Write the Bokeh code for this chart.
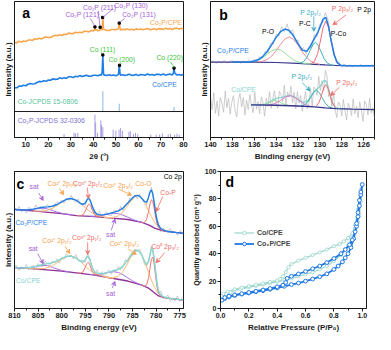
from bokeh.plotting import figure
from bokeh.models import Range1d, FixedTicker, Label, Arrow, VeeHead, Span, Legend, LegendItem, PrintfTickFormatter
from bokeh.layouts import column, row
from bokeh.embed import file_html
from bokeh.resources import INLINE

FONT = "Liberation Sans"
AX = "#1a1a1a"

# ---------------- Panel a : XRD ----------------
orange_x = [5, 6, 7, 8, 9, 10, 11, 12, 13, 14, 15, 16, 17, 18, 19, 20, 21, 22, 23, 24, 25, 26, 27, 28, 29, 30,
            31, 32, 33, 34, 35, 36, 37, 38, 39, 40, 40.5, 40.7, 40.9, 41.5, 42, 42.9, 43.3, 43.6, 43.9, 44.1, 44.2,
            44.3, 44.5, 45, 46, 47, 48, 49, 50, 51, 51.3, 51.5, 51.7, 52, 53, 54, 55, 56, 57, 58, 59, 60, 61, 62,
            63, 64, 65, 66, 67, 68, 69, 70, 71, 72, 73, 74, 75, 76, 77, 78, 79, 80]
orange_y = [101.6, 100.9, 102.6, 101.9, 102.8, 102.3, 103.9, 103.9, 103.6, 105.3, 104.8, 105.8, 105.0, 106.5, 107.2,
            106.6, 106.7, 108.0, 109.0, 108.5, 109.5, 108.8, 110.1, 109.8, 111.3, 110.8, 110.8, 112.2, 111.6, 112.3,
            111.8, 113.3, 113.3, 112.6, 114.1, 113.7, 114.5, 117.7, 114.6, 114.8, 113.7, 114.4, 117.0, 114.8, 115.0,
            124.0, 127.7, 123.5, 115.2, 115.1, 114.2, 114.1, 115.2, 115.2, 114.8, 115.8, 118.3, 121.7, 117.8, 114.6,
            115.3, 115.0, 115.75, 114.8, 115.5, 114.5, 115.8, 115.1, 115.7, 114.8, 115.5, 116.2, 115.0, 115.2, 116.1,
            114.8, 116.1, 115.8, 115.3, 116.6, 115.6, 116.1, 115.25, 116.3, 116.4, 115.6, 116.6, 115.5]
blue_x = [5, 6, 7, 8, 9, 10, 11, 12, 13, 14, 15, 16, 17, 18, 19, 20, 21, 22, 23, 24, 25, 26, 27, 28, 29, 30, 31, 32,
          33, 34, 35, 36, 37, 38, 39, 40, 41, 42, 43, 43.6, 43.9, 44.1, 44.2, 44.3, 44.5, 44.8, 45, 46, 47, 48, 49,
          50, 51, 51.2, 51.5, 51.8, 52, 53, 54, 55, 56, 57, 58, 59, 60, 61, 62, 63, 64, 65, 66, 67, 68, 69, 70, 71,
          72, 73, 74, 75, 75.5, 75.8, 76.1, 76.5, 77, 78, 79, 80]
blue_y = [53.1, 53.0, 54.9, 54.6, 55.8, 55.2, 56.8, 57.6, 57.1, 57.3, 58.7, 59.8, 59.4, 60.5, 59.9, 61.3, 61.0, 62.5,
          62.0, 62.1, 63.6, 63.0, 63.7, 63.2, 64.7, 64.7, 63.9, 65.3, 64.8, 66.0, 65.0, 65.7, 66.3, 65.4, 65.3, 66.4,
          66.35, 65.9, 66.95, 66.4, 70.0, 82.0, 87.7, 80.0, 68.5, 66.2, 66.45, 66.2, 66.95, 66.0, 66.75, 65.8, 67.0,
          68.5, 76.7, 69.0, 66.36, 67.0, 66.0, 66.75, 67.4, 66.2, 66.45, 67.3, 66.0, 67.2, 66.95, 66.45, 67.7, 66.7,
          67.2, 66.35, 67.35, 67.5, 66.7, 67.6, 66.5, 67.2, 67.6, 66.5, 68.5, 73.7, 68.8, 67.8, 66.7, 67.2, 66.3, 67.5]
orange_peak_x = [40.7, 43.0, 44.1, 51.5]
orange_peak_y = [117.9, 117.6, 128.0, 122.0]
blue_peak_x = [44.2, 51.6, 75.8]
blue_peak_y = [88.0, 77.0, 74.0]
co_ref_x = [44.2, 51.5, 75.8]
co_ref_top = [49.3, 36.0, 32.7]
co_ref_base = 27.7
co2p_ref_x = [27.0, 31.4, 32.1, 33.1, 40.7, 41.0, 41.8, 43.3, 43.6, 44.2, 48.8, 50.0, 51.4, 52.1, 52.9, 55.8, 56.4,
              57.8, 58.7, 59.7, 65.5, 67.9, 69.4, 70.6, 73.2, 74.2, 76.0, 77.1, 78.1]
co2p_ref_top = [3.7, 5.0, 4.3, 5.0, 24.3, 16.0, 5.0, 18.3, 13.5, 11.0, 8.3, 7.5, 8.3, 10.0, 7.0, 6.0, 7.0, 4.0, 5.0,
                3.5, 3.0, 3.0, 3.0, 4.5, 3.5, 4.0, 3.0, 4.0, 3.0]
a_ticks = [10, 20, 30, 40, 50, 60, 70, 80]

# ---------------- Panel b : P 2p ----------------
b_top_raw = [80.0, 82.5, 79.5, 81.8, 80.2, 82.9, 79.8, 81.5, 83.0, 80.1, 82.2, 79.6, 82.0, 80.5, 83.1, 80.2, 84.0,
             81.5, 86.9, 85.0, 92.5, 91.0, 101.5, 100.2, 110.8, 108.5, 119.0, 113.5, 122.0, 111.8, 116.0, 103.2,
             104.5, 93.0, 96.5, 89.8, 98.0, 97.5, 110.5, 108.2, 121.5, 123.0, 134.0, 126.5, 103.0, 95.5, 80.0, 80.8,
             76.0, 78.6, 76.2, 78.0, 75.8, 77.9, 76.5, 78.4, 76.0, 77.8, 76.3, 78.1, 76.9]
b_top_raw_x = [140 - 0.25 * i for i in range(len(b_top_raw))]
b_top_env_x = [138, 137, 136.4, 136.0, 135.6, 135.2, 134.8, 134.4, 134.0, 133.6, 133.2, 132.8, 132.4, 132.0, 131.6,
               131.2, 130.9, 130.6, 130.4, 130.2, 129.95, 129.7, 129.45, 129.2, 128.95, 128.7, 128.4, 128.1, 127.5,
               126, 125]
b_top_env_y = [81.0, 81.0, 81.3, 82.1, 83.7, 87.1, 92.6, 99.8, 107.5, 113.6, 116.4, 114.8, 108.9, 100.8, 93.8, 92.5,
               97.2, 104.0, 108.3, 112.5, 119.6, 127.1, 128.8, 119.3, 103.3, 89.0, 80.3, 77.5, 77.0, 77.0, 77.0]
b_top_bg_x = [140, 136, 134, 132, 130.5, 129.5, 128.5, 128, 125]
b_top_bg_y = [81.0, 81.0, 80.5, 79.5, 78.6, 77.9, 77.3, 77.0, 77.0]
b_top_green_x = [136.4, 136.0, 135.6, 135.2, 134.8, 134.4, 134.0, 133.6, 133.2, 132.8, 132.4, 132.0, 131.6, 131.2, 130.8]
b_top_green_y = [81.3, 82.0, 83.3, 85.9, 89.5, 93.0, 94.9, 94.0, 90.8, 86.8, 83.3, 81.1, 79.9, 79.2, 78.8]
b_top_pink_x = [135.6, 135.2, 134.8, 134.4, 134.0, 133.6, 133.2, 132.8, 132.4, 132.0, 131.6, 131.2, 130.8, 130.4, 130.0]
b_top_pink_y = [81.3, 82.0, 83.8, 87.4, 93.1, 99.9, 105.7, 107.9, 105.3, 99.1, 91.9, 85.8, 81.8, 79.7, 78.6]
b_top_teal_x = [131.8, 131.5, 131.2, 130.9, 130.6, 130.4, 130.2, 129.9, 129.6, 129.3, 129.0, 128.7]
b_top_teal_y = [79.9, 81.3, 85.5, 93.1, 100.3, 102.0, 100.1, 92.5, 84.5, 79.8, 78.0, 77.4]
b_top_red_x = [130.8, 130.5, 130.2, 129.95, 129.7, 129.45, 129.2, 128.95, 128.7, 128.4, 128.1]
b_top_red_y = [79.3, 81.7, 90.1, 103.6, 118.3, 124.9, 118.0, 102.9, 89.0, 80.3, 77.5]

b_bot_raw = [44, 30, 48, 26, 39, 23, 43, 37, 27, 50, 32, 42, 25, 38, 45, 29, 22, 41, 47, 33, 43, 24, 40, 30, 46,
             34.5, 26.5, 48.5, 30.5, 38.5, 25.5, 43.5, 37.7, 22.9, 42.4, 33.2, 49.2, 31.4, 41.3, 50.3, 35.8, 31.3,
             49.6, 45.9, 38.3, 55.9, 35.4, 48.8, 43.0, 55.0, 37.4, 48.6, 30.6, 49.3, 37.0, 45.1, 28.2, 39.8, 49.3,
             31.0, 36.5, 52.5, 33.3, 54.2, 51.8, 45.3, 65.6, 50.6, 61.0, 49.9, 72.0, 66.5, 44.0, 47.3, 33.0, 48.0,
             29.5, 21.5, 38.1, 35.0, 23.0, 40.9, 28.9, 18.8, 36.7, 31.7, 23.6, 41.6, 25.5, 33.5, 21.4, 38.4, 29.3,
             17.3, 39.3, 35.2, 24.2, 42.1, 26.1, 32.0, 20.0]
b_bot_raw_x = [140 - 0.15 * i for i in range(len(b_bot_raw))]
b_bot_env_x = [136.3, 135.6, 135.0, 134.7, 134.4, 134.1, 133.8, 133.5, 133.1, 132.7, 132.3, 131.9, 131.5, 131.1,
               130.8, 130.55, 130.3, 130.05, 129.85, 129.65, 129.45, 129.25, 129.05, 128.85, 128.6, 128.3, 127.5]
b_bot_env_y = [35.0, 35.0, 35.9, 37.4, 39.7, 41.5, 42.45, 43.0, 44.4, 45.1, 43.4, 40.0, 37.6, 39.3, 44.35, 49.15,
               51.9, 54.0, 57.15, 60.85, 61.0, 54.8, 45.25, 37.35, 32.5, 31.1, 30.75]
b_bot_bg_x = [136.3, 134, 132, 130.5, 129.5, 128.5, 127, 125]
b_bot_bg_y = [35.0, 34.6, 33.8, 32.8, 31.8, 31.0, 30.5, 30.0]
b_bot_green_x = [135.3, 135.0, 134.7, 134.4, 134.1, 133.8, 133.5, 133.2, 132.9]
b_bot_green_y = [35.0, 35.7, 37.1, 38.9, 39.6, 38.8, 37.0, 35.6, 34.6]
b_bot_pink_x = [134.7, 134.3, 133.9, 133.5, 133.1, 132.7, 132.3, 131.9, 131.5, 131.1, 130.7]
b_bot_pink_y = [35.0, 35.75, 37.65, 40.6, 43.7, 45.0, 43.3, 39.8, 36.4, 34.2, 33.2]
b_bot_teal_x = [131.7, 131.4, 131.1, 130.8, 130.55, 130.3, 130.05, 129.8, 129.5, 129.2, 128.9]
b_bot_teal_y = [33.96, 35.0, 38.2, 43.9, 48.75, 50.6, 48.25, 43.0, 36.8, 33.15, 31.66]
b_bot_red_x = [130.3, 130.05, 129.85, 129.65, 129.45, 129.25, 129.05, 128.85, 128.6]
b_bot_red_y = [33.9, 38.1, 45.15, 53.15, 56.75, 52.8, 44.45, 37.05, 32.4]
b_ticks = [140, 138, 136, 134, 132, 130, 128, 126]

# ---------------- Panel c : Co 2p ----------------
c_x = [810, 809, 808, 807, 806, 805, 804, 803, 802, 801, 800, 799, 798, 797, 796.5, 796, 795.5, 795, 794.7, 794.4,
       794.1, 793.8, 793.5, 793, 792.5, 792, 791, 790, 789, 788, 787, 786, 785, 784.5, 784, 783.5, 783, 782.5, 782,
       781.6, 781.3, 781.0, 780.7, 780.4, 780.1, 779.8, 779.5, 779, 778.5, 778, 777, 776, 775, 774.2]
c_top_env = [106.3, 105.9, 105.7, 105.9, 106.6, 107.7, 108.6, 109.0, 109.7, 111.6, 114.5, 117.2, 118.0, 116.2, 114.6,
             112.7, 111.6, 113.4, 116.0, 117.9, 117.3, 113.9, 109.3, 103.4, 101.1, 100.5, 100.7, 101.8, 103.2, 104.7,
             107.8, 113.1, 118.7, 120.7, 121.4, 120.5, 118.1, 114.7, 114.3, 119.5, 124.9, 127.2, 123.1, 113.5, 102.7,
             94.5, 89.5, 85.8, 84.2, 83.3, 82.4, 81.7, 81.2, 80.7]
c_bot_env = [44.0, 43.7, 43.5, 43.7, 44.5, 45.9, 47.25, 48.2, 49.15, 50.8, 53.5, 55.8, 56.3, 54.3, 52.5, 50.5, 49.7,
             52.7, 55.3, 55.8, 52.95, 47.9, 43.25, 39.25, 37.9, 37.5, 37.8, 39.06, 40.46, 42.0, 45.5, 52.2, 59.6,
             62.05, 62.55, 60.8, 56.9, 51.2, 47.0, 50.0, 57.0, 63.95, 63.75, 53.9, 39.1, 26.45, 18.7, 14.3, 12.8,
             11.8, 10.9, 10.18, 9.53, 9.0]
c_top_bg_x = [810, 805, 800, 796.9, 793, 789.9, 786, 783, 781.5, 780.2, 779, 778.2, 774.2]
c_top_bg_y = [106.3, 104.2, 101.8, 99.7, 98.6, 97.3, 95.5, 92.3, 89.5, 86.0, 84.0, 83.0, 80.7]
c_bot_bg_x = [810, 805, 800, 796.9, 793, 789.9, 786, 783, 781.5, 780.5, 779.5, 778, 774.2]
c_bot_bg_y = [44.0, 42.3, 40.2, 38.3, 35.8, 33.0, 29.5, 25.0, 21.5, 17.5, 13.5, 11.5, 9.0]
c_sat1_x = [810, 809, 808, 807, 806, 805, 804, 803, 802, 801, 800, 799, 798]
c_top_sat1_y = [106.3, 105.9, 105.7, 105.9, 106.5, 107.4, 107.7, 106.8, 105.2, 103.5, 102.2, 101.3, 100.5]
c_bot_sat1_y = [44.0, 43.7, 43.5, 43.7, 44.4, 45.55, 46.3, 45.9, 44.3, 42.4, 40.9, 39.8, 39.0]
c_top_o1_x = [806, 805, 804, 803, 802, 801, 800, 799, 798, 797, 796.5, 796, 795.5, 795, 794.7, 794.4, 794.1, 793.8,
              793.5, 793, 792.5, 792, 791, 790, 789]
c_top_o1_y = [104.7, 104.5, 104.6, 105.4, 107.3, 110.4, 114.1, 117.1, 118.0, 116.2, 114.6, 112.6, 110.4, 108.1,
              106.8, 105.6, 104.4, 103.4, 102.4, 101.2, 100.1, 99.3, 98.2, 97.5, 96.9]
c_top_r1_x = [796.5, 796, 795.5, 795, 794.7, 794.4, 794.1, 793.8, 793.5, 793, 792.5, 792]
c_top_r1_y = [99.6, 99.6, 100.5, 104.5, 108.3, 111.3, 111.7, 109.2, 105.3, 100.4, 98.6, 98.2]
c_top_s2_x = [794.1, 793, 792, 791, 790, 789, 788, 787, 786, 785, 784, 783, 782.5]
c_top_s2_y = [99.0, 99.0, 99.4, 100.3, 101.5, 102.2, 101.7, 100.1, 98.0, 95.6, 93.8, 92.4, 91.4]
c_o2_x = [791, 790, 789, 788, 787, 786, 785, 784.5, 784, 783.5, 783, 782.5, 782, 781.6, 781.3, 781.0, 780.7, 780.4,
          780.1, 779.8, 779.5, 779, 778.5, 778, 777]
c_top_o2_y = [97.8, 97.6, 97.8, 99.4, 103.7, 110.6, 117.5, 120.0, 121.0, 120.2, 117.9, 113.8, 108.9, 104.8, 101.7,
              98.6, 95.7, 93.0, 90.8, 89.1, 87.6, 85.6, 84.2, 83.3, 82.4]
c_r2_x = [783, 782.5, 782, 781.6, 781.3, 781.0, 780.7, 780.4, 780.1, 779.8, 779.5, 779, 778.5]
c_top_r2_y = [92.4, 92.2, 95.8, 104.4, 112.2, 116.8, 114.8, 107.0, 97.7, 90.7, 86.7, 84.2, 83.4]
c_bot_o1_x = [808, 807, 806, 805, 804, 803, 802, 801, 800, 799, 798, 797, 796.5, 796, 795.5, 795, 794.7, 794.4,
              794.1, 793.8, 793.5, 793, 792.5, 792, 791, 790, 789]
c_bot_o1_y = [43.3, 43.0, 42.7, 42.6, 42.85, 43.8, 45.9, 49.0, 52.8, 55.6, 56.3, 54.3, 52.5, 50.3, 47.9, 45.5, 44.1,
              42.8, 41.6, 40.5, 39.5, 38.1, 36.9, 35.9, 34.3, 33.2, 32.2]
c_bot_r1_x = [796.5, 796, 795.5, 795, 794.7, 794.4, 794.1, 793.8, 793.5, 793, 792.5]
c_bot_r1_y = [38.0, 37.9, 39.2, 44.3, 48.1, 49.7, 47.7, 43.5, 39.5, 36.3, 35.4]
c_bot_s2_x = [794.1, 793, 792, 791, 790, 789, 788, 787, 786, 785, 784, 783, 782]
c_bot_s2_y = [36.65, 36.4, 36.5, 37.4, 38.8, 39.5, 38.6, 36.1, 32.9, 29.6, 27.1, 25.2, 22.7]
c_bot_o2_y = [34.0, 33.3, 33.2, 34.75, 39.8, 48.8, 58.0, 61.05, 61.95, 60.45, 56.7, 50.9, 44.2, 38.8, 34.6, 30.55,
              26.9, 23.6, 20.7, 18.15, 15.9, 14.1, 12.8, 11.8, 10.9]
c_bot_r2_y = [25.0, 24.1, 25.5, 32.9, 43.1, 52.9, 55.15, 47.4, 34.3, 23.0, 16.3, 13.1, 12.2]
c_top_raw = [108.7, 104.3, 109.5, 103.4, 106.9, 102.2, 108.9, 106.2, 104.2, 111.3, 106.5, 110.0, 105.6, 109.4, 111.4,
             107.5, 106.1, 111.8, 114.6, 112.4, 116.3, 112.9, 118.4, 115.9, 121.6, 116.6, 113.8, 117.6, 111.5, 112.8,
             110.4, 119.7, 117.1, 105.7, 105.2, 99.9, 104.1, 98.2, 101.3, 103.6, 100.0, 99.5, 105.0, 105.1, 103.5,
             109.7, 105.4, 111.5, 112.5, 119.0, 116.9, 121.9, 117.8, 122.9, 116.9, 116.5, 111.3, 121.9, 130.2, 114.3,
             98.8, 91.9, 82.2, 86.0, 83.9, 81.0, 86.0, 80.8, 82.9, 78.4, 83.0, 83.3]
c_bot_raw = [46.4, 45.65, 40.7, 44.8, 42.3, 47.2, 41.9, 44.7, 46.3, 41.6, 48.3, 45.4, 44.85, 50.7, 48.8, 45.7, 50.95,
             48.8, 53.2, 48.5, 54.7, 52.9, 58.8, 55.5, 57.5, 53.0, 57.9, 51.3, 51.7, 51.5, 49.7, 58.7, 53.7, 43.85,
             36.85, 41.5, 36.3, 39.4, 34.2, 39.0, 41.46, 36.8, 41.66, 40.0, 45.0, 41.3, 44.9, 52.4, 50.4, 57.2, 56.6,
             63.85, 61.95, 63.8, 58.1, 47.6, 45.2, 54.7, 67.0, 54.5, 36.3, 17.5, 18.5, 10.4, 11.8, 14.35, 7.3, 11.7,
             7.8, 13.45, 7.7, 11.6]
c_raw_x = [810 - 0.5 * i for i in range(len(c_top_raw))]
c_ticks = [810, 805, 800, 795, 790, 785, 780, 775]

# ---------------- Panel d : N2 isotherms ----------------
co_ads_x = [0.01, 0.04, 0.07, 0.1, 0.14, 0.2, 0.25, 0.3, 0.35, 0.4, 0.45, 0.5, 0.55, 0.6, 0.65, 0.7, 0.75, 0.8,
            0.85, 0.9, 0.93, 0.95, 0.97, 0.98, 0.99, 1.0]
co_ads_y = [9, 10.5, 11.8, 13, 14.2, 15.5, 16.5, 17.5, 18.5, 19.5, 20.8, 22, 23.5, 25, 26.5, 28.5, 31, 34.5, 39, 46,
            52, 57, 63, 68, 78, 90]
co_des_x = [0.99, 0.97, 0.95, 0.93, 0.9, 0.87, 0.84, 0.8, 0.75, 0.7, 0.65, 0.6, 0.55, 0.5, 0.48, 0.46, 0.44, 0.42,
            0.4, 0.35, 0.3, 0.25, 0.2, 0.15, 0.1, 0.05, 0.02]
co_des_y = [87, 72, 61, 55, 51.5, 49, 47, 45.5, 43, 41, 39, 37, 35, 32.5, 30, 26.5, 23.5, 21.5, 20.5, 19.5, 18.3,
            17.3, 16.3, 15.2, 14, 12.3, 10.8]
co2p_ads_x = [0.01, 0.03, 0.06, 0.1, 0.15, 0.2, 0.25, 0.3, 0.35, 0.4, 0.45, 0.5, 0.55, 0.6, 0.65, 0.7, 0.75, 0.8,
              0.83, 0.86, 0.88, 0.9, 0.92, 0.94, 0.96, 0.97, 0.98, 0.99, 1.0]
co2p_ads_y = [6, 7.3, 8.4, 9.5, 10.5, 11.3, 12.2, 13, 14, 15, 16.2, 17.5, 18.6, 20, 21.5, 23.2, 25.3, 28.5, 31, 34,
              37, 40, 44.5, 51, 60, 67, 75, 83, 90.5]
co2p_des_x = [0.99, 0.98, 0.97, 0.96, 0.95, 0.93, 0.91, 0.88, 0.85, 0.8, 0.75, 0.7, 0.65, 0.6, 0.55, 0.5, 0.47,
              0.46, 0.44, 0.4, 0.35, 0.3, 0.25, 0.2, 0.15, 0.1, 0.06, 0.03]
co2p_des_y = [85, 79, 70, 62, 56, 50, 46.5, 43, 40, 36.5, 33.5, 31, 29, 27, 25.2, 23.5, 22, 19, 17, 15.8, 14.6,
              13.5, 12.6, 11.7, 10.8, 9.9, 9.0, 8.0]
d_xticks = [0.0, 0.2, 0.4, 0.6, 0.8, 1.0]
d_yticks = [0, 20, 40, 60, 80, 100]

# ---------------- helpers ----------------
def make_fig(w, h, xr, yr, bl, br, bt, bb):
    p = figure(width=w, height=h, x_range=xr, y_range=yr, output_backend="svg", toolbar_location=None,
               min_border_left=bl, min_border_right=br, min_border_top=bt, min_border_bottom=bb)
    p.xgrid.visible = False
    p.ygrid.visible = False
    p.outline_line_color = AX
    p.outline_line_width = 1
    p.outline_line_alpha = 1
    p.background_fill_color = "white"
    p.border_fill_color = "white"
    return p


def style_axis(ax, label, ticks, minor, lsize="8px", tsize="7.5px"):
    ax.axis_label = label
    ax.axis_label_text_font = FONT
    ax.axis_label_text_font_style = "bold"
    ax.axis_label_text_font_size = lsize
    ax.axis_label_text_color = AX
    ax.axis_label_standoff = 2
    ax.ticker = FixedTicker(ticks=ticks, minor_ticks=minor)
    ax.major_label_text_font = FONT
    ax.major_label_text_font_style = "bold"
    ax.major_label_text_font_size = tsize
    ax.major_label_text_color = AX
    ax.major_label_standoff = 1
    ax.major_tick_out = 3 if ticks else 0
    ax.major_tick_in = 0
    ax.minor_tick_out = 2 if minor else 0
    ax.minor_tick_in = 0
    ax.axis_line_color = AX
    ax.major_tick_line_color = AX
    ax.minor_tick_line_color = AX


def txt(p, x, y, s, color, size="6.8px", align="left", bold=False):
    p.add_layout(Label(x=x, y=y, text=s, text_color=color, text_font=FONT, text_font_size=size,
                       text_align=align, text_baseline="middle",
                       text_font_style="bold" if bold else "normal"))


def arr(p, x0, y0, x1, y1, color, head=True):
    end = VeeHead(size=4, line_color=color, fill_color=color, line_width=0.8) if head else None
    p.add_layout(Arrow(x_start=x0, y_start=y0, x_end=x1, y_end=y1, line_color=color, line_width=0.8, end=end))


# colours
ORANGE = "#f8a64c"
BLUE = "#1f7ee6"
PURPLE_T = "#a460d6"
GREEN_T = "#3cc43e"
GRAY = "#b9b9b9"
NAVY = "#34348c"
GREEN_C = "#95e395"
PINK_C = "#f28d9f"
MAGENTA_C = "#df7ccb"
TEAL_C = "#3db3b6"
RED_C = "#f36d72"
LTEAL = "#86d5cf"
ORANGE_C = "#fbbd79"
SALMON = "#f1756e"
VIOLET = "#a873dc"
BGPUR = "#8f2f97"
ORANGE_T = "#f5a04a"
SALMON_T = "#ef6c63"
TEAL_T = "#3aa9c2"

# ---------------- build panel a ----------------
pa = make_fig(189, 163, Range1d(5, 80), Range1d(0, 145), 12, 6, 1, 23)
style_axis(pa.xaxis[0], "2θ (°)", a_ticks, [15, 25, 35, 45, 55, 65, 75])
style_axis(pa.yaxis[0], "Intensity (a.u.)", [], [])
pa.add_layout(Span(location=co_ref_base, dimension="width", line_color=AX, line_width=1))
pa.segment(x0=co_ref_x, y0=[co_ref_base] * len(co_ref_x), x1=co_ref_x, y1=co_ref_top, line_color="#9cc4e8", line_width=1.2)
pa.segment(x0=co2p_ref_x, y0=[0] * len(co2p_ref_x), x1=co2p_ref_x, y1=co2p_ref_top, line_color="#a79de3", line_width=1)
pa.line(orange_x, orange_y, line_color=ORANGE, line_width=1.6)
pa.line(blue_x, blue_y, line_color=BLUE, line_width=1.6)
pa.scatter(orange_peak_x, orange_peak_y, marker="square", size=2.2, color="black")
pa.scatter(blue_peak_x, blue_peak_y, marker="square", size=2.2, color="black")
txt(pa, 8.4, 133, "a", "black", size="14px", bold=True)
txt(pa, 27.6, 131, "Co₂P (121)", PURPLE_T)
txt(pa, 35.4, 139, "Co₂P (211)", PURPLE_T)
txt(pa, 49.3, 141, "Co₂P (130)", PURPLE_T)
txt(pa, 52.8, 131, "Co₂P (131)", PURPLE_T)
arr(pa, 38.6, 127, 40.6, 119, PURPLE_T, head=False)
arr(pa, 42.2, 135, 42.9, 119, PURPLE_T, head=False)
arr(pa, 48.8, 137.5, 44.4, 128.5, PURPLE_T, head=False)
arr(pa, 53.9, 127, 51.7, 122.5, PURPLE_T, head=False)
txt(pa, 79.2, 123, "Co₂P/CPE", ORANGE, align="right")
txt(pa, 38.4, 94, "Co (111)", GREEN_T)
txt(pa, 46.8, 83, "Co (200)", GREEN_T)
txt(pa, 68.0, 85, "Co (220)", GREEN_T)
arr(pa, 74.2, 80.5, 75.9, 74.5, GREEN_T, head=False)
txt(pa, 77.0, 57, "Co/CPE", BLUE, align="right")
txt(pa, 6.4, 38, "Co-JCPDS 15-0806", "#55bf97")
txt(pa, 6.4, 18, "Co₂P-JCPDS 32-0306", "#7b6fd4")

# ---------------- build panel b ----------------
pb = make_fig(186, 163, Range1d(140, 125), Range1d(0, 146), 21, 1, 1, 23)
style_axis(pb.xaxis[0], "Binding energy (eV)", b_ticks, [139, 137, 135, 133, 131, 129, 127, 125])
style_axis(pb.yaxis[0], "Intensity (a.u.)", [], [])
pb.line(b_top_raw_x, b_top_raw, line_color=GRAY, line_width=0.7)
pb.line(b_top_bg_x, b_top_bg_y, line_color=NAVY, line_width=1.2)
pb.line(b_top_green_x, b_top_green_y, line_color=GREEN_C, line_width=1)
pb.line(b_top_pink_x, b_top_pink_y, line_color=PINK_C, line_width=1)
pb.line(b_top_teal_x, b_top_teal_y, line_color=TEAL_C, line_width=1)
pb.line(b_top_red_x, b_top_red_y, line_color=RED_C, line_width=1)
pb.line(b_top_env_x, b_top_env_y, line_color=BLUE, line_width=1.5)
pb.line(b_bot_raw_x, b_bot_raw, line_color=GRAY, line_width=0.7)
pb.line(b_bot_env_x, b_bot_env_y, line_color=LTEAL, line_width=1.3)
pb.line(b_bot_green_x, b_bot_green_y, line_color=GREEN_C, line_width=1)
pb.line(b_bot_pink_x, b_bot_pink_y, line_color=MAGENTA_C, line_width=1)
pb.line(b_bot_teal_x, b_bot_teal_y, line_color=TEAL_C, line_width=1)
pb.line(b_bot_red_x, b_bot_red_y, line_color=RED_C, line_width=1)
pb.line(b_bot_bg_x, b_bot_bg_y, line_color=NAVY, line_width=1.3)
txt(pb, 139.2, 132, "b", "black", size="14px", bold=True)
txt(pb, 125.3, 137, "P 2p", "black", align="right")
txt(pb, 131.8, 134, "P 2p₁/₂", TEAL_T)
arr(pb, 130.55, 130, 130.55, 114, TEAL_T)
txt(pb, 128.9, 138, "P 2p₃/₂", SALMON_T)
arr(pb, 127.6, 131.5, 128.8, 121, SALMON_T)
txt(pb, 135.3, 114, "P-O", "black")
txt(pb, 131.9, 122, "P-C", "black")
txt(pb, 129.0, 112, "P-Co", "black")
txt(pb, 139.4, 93, "Co₂P/CPE", BLUE)
txt(pb, 132.6, 65, "P 2p₁/₂", TEAL_T)
arr(pb, 131.6, 59, 130.9, 50, TEAL_T)
txt(pb, 128.5, 59, "P 2p₃/₂", SALMON_T)
arr(pb, 128.2, 54, 129.0, 45, SALMON_T)
txt(pb, 138.1, 52, "Co/CPE", LTEAL)

# ---------------- build panel c ----------------
pc = make_fig(189, 171, Range1d(810, 774.2), Range1d(0, 147), 12, 6, 8, 24)
style_axis(pc.xaxis[0], "Binding energy (eV)", c_ticks, [807.5, 802.5, 797.5, 792.5, 787.5, 782.5, 777.5])
style_axis(pc.yaxis[0], "Intensity (a.u.)", [], [])
pc.line(c_raw_x, c_top_raw, line_color=GRAY, line_width=0.7)
pc.line(c_raw_x, c_bot_raw, line_color=GRAY, line_width=0.7)
pc.line(c_top_bg_x, c_top_bg_y, line_color=BGPUR, line_width=1.3)
pc.line(c_bot_bg_x, c_bot_bg_y, line_color=BGPUR, line_width=1.3)
pc.line(c_sat1_x, c_top_sat1_y, line_color=VIOLET, line_width=1)
pc.line(c_top_s2_x, c_top_s2_y, line_color=VIOLET, line_width=1)
pc.line(c_top_o1_x, c_top_o1_y, line_color=ORANGE_C, line_width=1)
pc.line(c_o2_x, c_top_o2_y, line_color=ORANGE_C, line_width=1)
pc.line(c_top_r1_x, c_top_r1_y, line_color=SALMON, line_width=1)
pc.line(c_r2_x, c_top_r2_y, line_color=SALMON, line_width=1)
pc.line(c_x, c_top_env, line_color=BLUE, line_width=1.4)
pc.line(c_sat1_x, c_bot_sat1_y, line_color=VIOLET, line_width=1)
pc.line(c_bot_s2_x, c_bot_s2_y, line_color=VIOLET, line_width=1)
pc.line(c_bot_o1_x, c_bot_o1_y, line_color=ORANGE_C, line_width=1)
pc.line(c_o2_x, c_bot_o2_y, line_color=ORANGE_C, line_width=1)
pc.line(c_bot_r1_x, c_bot_r1_y, line_color=SALMON, line_width=1)
pc.line(c_r2_x, c_bot_r2_y, line_color=SALMON, line_width=1)
pc.line(c_x, c_bot_env, line_color=LTEAL, line_width=1.4)
txt(pc, 809.6, 134, "c", "black", size="14px", bold=True)
txt(pc, 806.8, 131, "sat", PURPLE_T)
arr(pc, 804.9, 124, 803.9, 116, PURPLE_T)
txt(pc, 803.0, 134, "Co²⁺ 2p₁/₂", ORANGE_T)
arr(pc, 800.5, 129, 799.6, 122, ORANGE_T)
txt(pc, 797.6, 134, "Co³⁺ 2p₁/₂", SALMON_T)
arr(pc, 794.6, 130, 794.3, 118, SALMON_T)
txt(pc, 791.2, 132, "Co²⁺ 2p₃/₂", ORANGE_T)
arr(pc, 787.9, 128, 785.2, 121.5, ORANGE_T)
txt(pc, 784.4, 134, "Co-O", ORANGE_T)
txt(pc, 779.1, 125, "Co-P", SALMON_T)
arr(pc, 778.6, 120, 780.0, 104, SALMON_T)
txt(pc, 778.4, 142, "Co 2p", "black")
txt(pc, 809.8, 92, "Co₂P/CPE", BLUE)
txt(pc, 790.6, 79, "sat", PURPLE_T)
arr(pc, 789.5, 84, 788.7, 96, PURPLE_T)
txt(pc, 807.0, 64, "sat", PURPLE_T)
arr(pc, 805.1, 59, 803.9, 48, PURPLE_T)
txt(pc, 804.1, 73, "Co²⁺ 2p₁/₂", ORANGE_T)
arr(pc, 799.3, 67, 798.3, 59, ORANGE_T)
txt(pc, 797.8, 76, "Co³⁺ 2p₁/₂", SALMON_T)
arr(pc, 794.5, 71, 794.5, 58, SALMON_T)
txt(pc, 789.9, 70, "Co²⁺ 2p₃/₂", ORANGE_T)
arr(pc, 786.0, 64, 784.2, 58, ORANGE_T)
txt(pc, 781.0, 66, "Co⁰ 2p₃/₂", SALMON_T)
arr(pc, 778.2, 60, 780.0, 49, SALMON_T)
txt(pc, 809.7, 30, "Co/CPE", LTEAL)
txt(pc, 790.6, 16, "sat", PURPLE_T)
arr(pc, 789.3, 22, 788.7, 29, PURPLE_T)

# ---------------- build panel d ----------------
pd_ = make_fig(186, 171, Range1d(0, 1.03), Range1d(0, 100), 23, 9, 8, 24)
style_axis(pd_.xaxis[0], "Relative Pressure (P/P₀)", d_xticks, [0.1, 0.3, 0.5, 0.7, 0.9])
style_axis(pd_.yaxis[0], "Quantity adsorbed (cm³ g⁻¹)", d_yticks, [10, 30, 50, 70, 90], lsize="7px", tsize="7px")
pd_.xaxis[0].formatter = PrintfTickFormatter(format="%.1f")
pd_.xaxis[0].major_label_text_font_size = "7px"
TEAL_D = "#a2d9cf"
BLUE_D = "#1f78e3"
co_x = co_ads_x + co_des_x
co_y = co_ads_y + co_des_y
co2p_x = co2p_ads_x + co2p_des_x
co2p_y = co2p_ads_y + co2p_des_y
l1 = pd_.line(co_x, co_y, line_color=TEAL_D, line_width=1.3)
s1 = pd_.scatter(co_x, co_y, marker="circle", size=3.2, fill_color="white", line_color=TEAL_D, line_width=0.9)
l2 = pd_.line(co2p_x, co2p_y, line_color=BLUE_D, line_width=1.8)
s2 = pd_.scatter(co2p_x, co2p_y, marker="circle", size=3.8, fill_color="white", line_color=BLUE_D, line_width=1)
leg = Legend(items=[LegendItem(label="Co/CPE", renderers=[l1, s1]), LegendItem(label="Co₂P/CPE", renderers=[l2, s2])],
             location=(14, 60), background_fill_alpha=0, border_line_alpha=0, label_text_font=FONT,
             label_text_font_size="7px", label_text_font_style="bold", glyph_width=20, glyph_height=9,
             label_height=9, spacing=2, padding=0, margin=0, label_standoff=3)
pd_.add_layout(leg)
txt(pd_, 0.035, 92, "d", "black", size="14px", bold=True)

layout = column(row(pa, pb), row(pc, pd_))
open("out.html", "w").write(file_html(layout, INLINE))
